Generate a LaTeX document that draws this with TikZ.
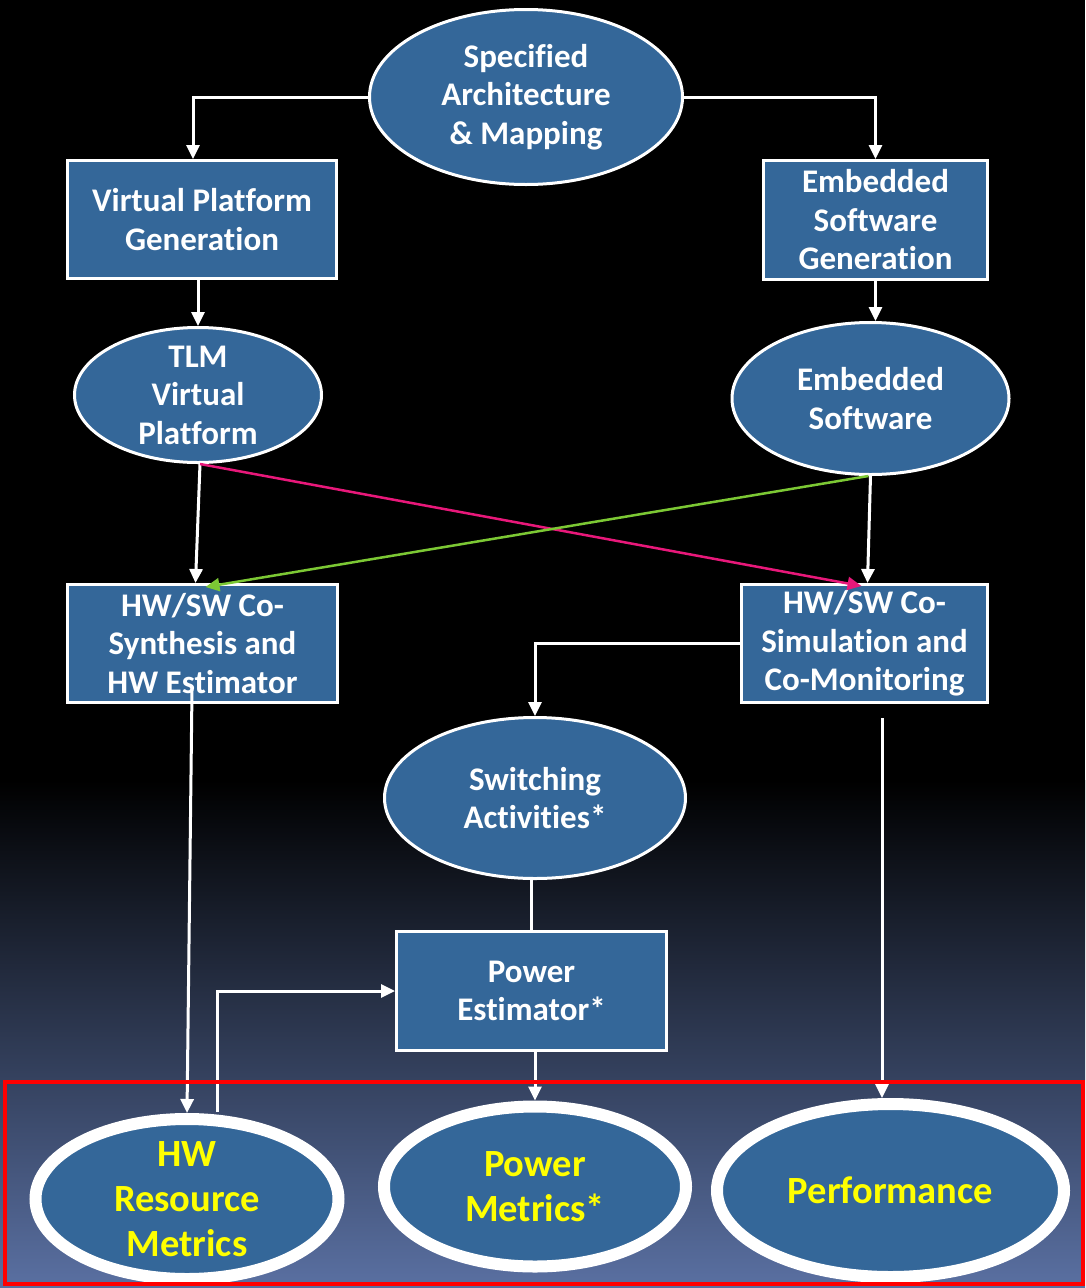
\documentclass[tikz,border=0pt]{standalone}
\usepackage{fontspec}
\setmainfont[Ligatures={NoCommon}]{Carlito}
\usetikzlibrary{shapes.geometric,arrows.meta}
\definecolor{boxblue}{RGB}{52,103,153}
\definecolor{bgbottom}{RGB}{90,112,162}
\definecolor{hotpink}{RGB}{232,24,122}
\definecolor{limegreen}{RGB}{124,200,52}
\definecolor{metricyellow}{RGB}{255,255,0}
\begin{document}
\begin{tikzpicture}[x=1pt,y=-1pt,
  bluetext/.style={text=white, align=center, inner sep=0pt,
    font=\fontsize{33}{38.5}\selectfont\bfseries},
  blockbox/.style={rectangle, draw=white, line width=3pt, fill=boxblue,
    inner sep=0pt, text=white, align=center,
    font=\fontsize{33}{38.5}\selectfont\bfseries},
  dataell/.style={ellipse, draw=white, line width=3pt, fill=boxblue, inner sep=0pt},
  metricell/.style={ellipse, draw=white, line width=12pt, fill=boxblue, inner sep=0pt},
  metrictext/.style={text=metricyellow, align=center, inner sep=0pt,
    font=\fontsize{38.5}{45}\selectfont\bfseries},
  flow/.style={draw=white, line width=3pt, -{Triangle[length=14pt,width=13pt]}},
  plainflow/.style={draw=white, line width=3pt},
]
% background: black top fading into slate blue at the bottom
\fill[black] (0,0) rectangle (1085,781);
\shade[top color=black, bottom color=bgbottom] (0,780) rectangle (1085,1288);
\useasboundingbox (0,0) rectangle (1085,1288);

% nodes
\node[dataell, minimum width=313, minimum height=175,
  label={[bluetext]center:Specified\\Architecture\\\& Mapping}] (spec) at (526,97) {};
\node[blockbox, minimum width=269, minimum height=118] (vpg) at (202,219.5) {Virtual Platform\\Generation};
\node[blockbox, minimum width=224, minimum height=119] (esg) at (875.5,220) {Embedded\\Software\\Generation};
\node[dataell, minimum width=247, minimum height=135,
  label={[bluetext]center:TLM\\Virtual\\Platform}] (tlm) at (198,395) {};
\node[dataell, minimum width=277, minimum height=152,
  label={[bluetext]center:Embedded\\Software}] (es) at (870.5,398.5) {};
\node[blockbox, minimum width=270, minimum height=118] (cosyn) at (202.5,643.5) {HW/SW Co-\\Synthesis and\\HW Estimator};
\node[blockbox, minimum width=246, minimum height=118] (cosim) at (864.5,643.5) {HW/SW Co-\\Simulation and\\Co-Monitoring};
\node[dataell, minimum width=301, minimum height=161,
  label={[bluetext]center:Switching\\Activities*}] (sw) at (535,798) {};
\node[blockbox, minimum width=270, minimum height=119] (pe) at (531.5,991) {Power\\Estimator*};
\node[metricell, minimum width=303, minimum height=160,
  label={[metrictext]center:HW\\Resource\\Metrics}] (hw) at (187,1199) {};
\node[metricell, minimum width=302, minimum height=160,
  label={[metrictext]center:Power\\Metrics*}] (pm) at (535,1186.5) {};
\node[metricell, minimum width=347, minimum height=173,
  label={[metrictext]center:Performance}] (perf) at (890.5,1190.5) {};

% free ends of the long drops
\coordinate (hwsrc) at (192,690);
\coordinate (perfsrc) at (882,718);

% connectors
\draw[flow] (spec.west) -| ([xshift=-9]vpg.north);
\draw[flow] (spec.east) -| (esg.north);
\draw[flow] (vpg.south -| tlm.north) -- (tlm.north);
\draw[flow] (esg.south) -- (esg.south |- es.north);
\draw[flow] ([xshift=2]tlm.south) -- ([xshift=-7]cosyn.north);
\draw[flow] (es.south) -- ([xshift=3]cosim.north);
\draw[draw=hotpink, line width=2.5pt, -{Triangle[length=14pt,width=13pt]}]
  ([xshift=2]tlm.south) -- ([xshift=-3,yshift=-3]cosim.north);
\draw[draw=limegreen, line width=2.5pt, -{Triangle[length=14pt,width=13pt]}]
  ([xshift=-2]es.south) -- ([xshift=3,yshift=-4]cosyn.north);
\draw[flow] (cosim.west) -| (sw.north);
\draw[plainflow] (pe.north |- sw.south) -- (pe.north);
\draw[flow] (pe.south -| pm.north) -- (pm.north);
\draw[flow] (perfsrc) -- (perfsrc |- perf.north);
\draw[flow] (hwsrc) -- (hw.north);
\draw[flow] ([xshift=30,yshift=1]hw.north) |- (pe.west);

% frame round the metrics
\draw[red, line width=3.5pt] (5,1082) rectangle (1083,1284);
\end{tikzpicture}
\end{document}
